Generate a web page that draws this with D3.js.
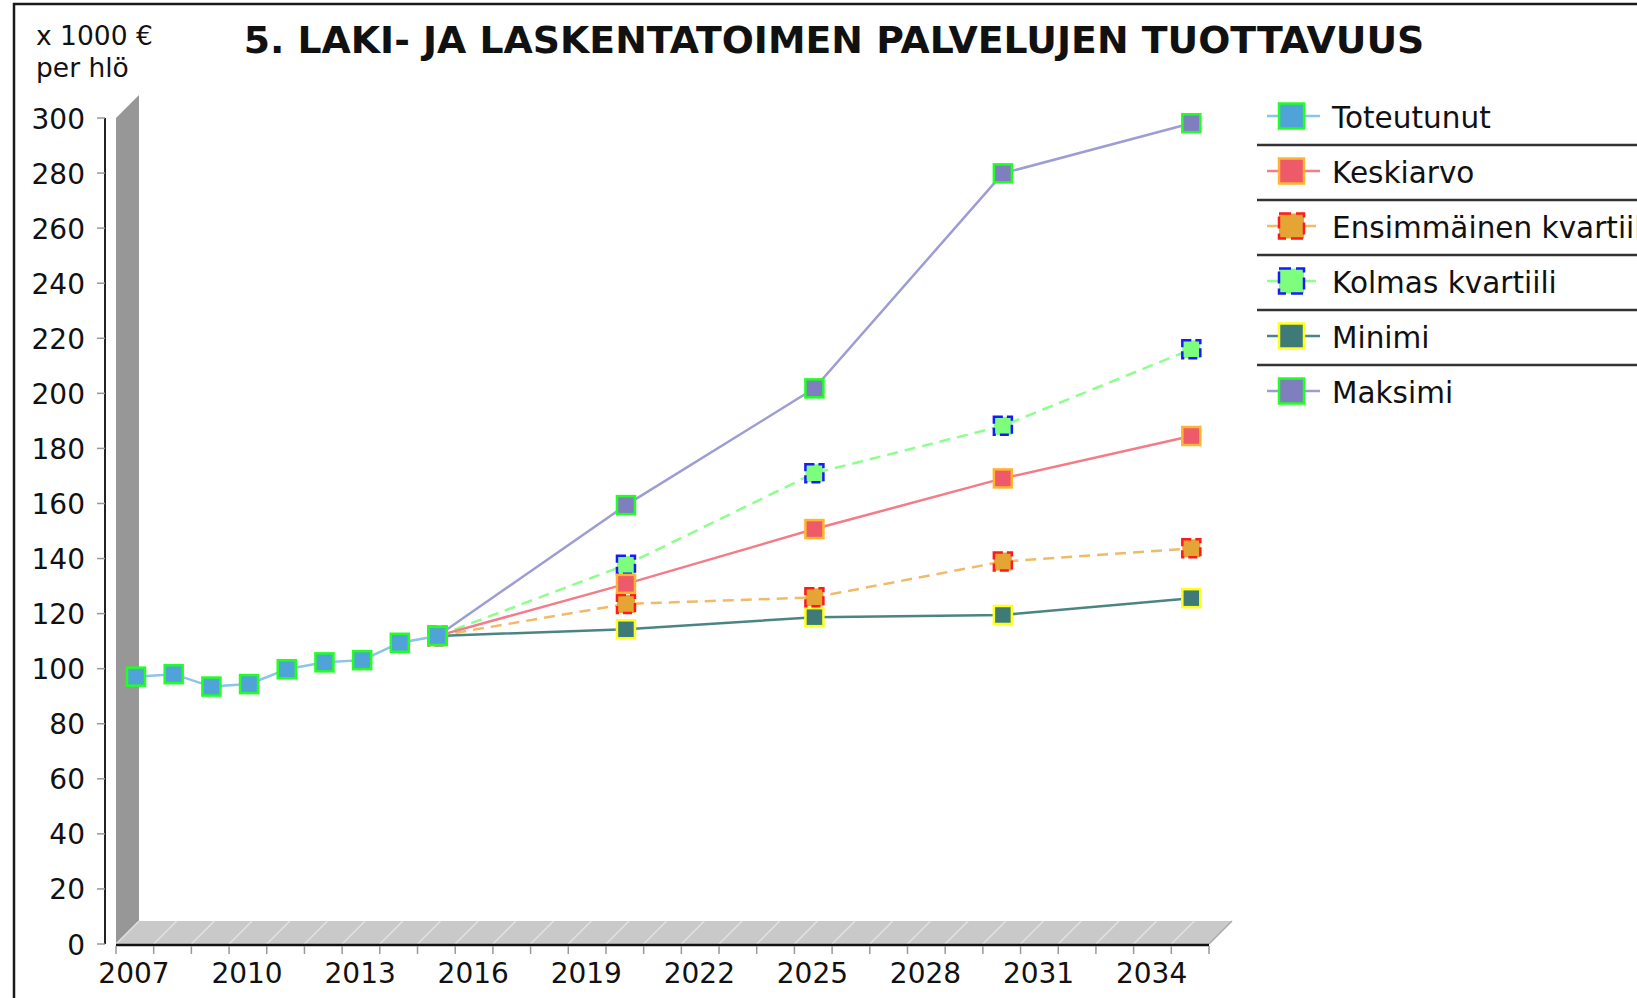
<!DOCTYPE html>
<html>
<head>
<meta charset="utf-8">
<script src="https://cdn.jsdelivr.net/npm/d3@7"></script>
<style>
  body { margin: 0; background: #fff; }
  text { font-family: "DejaVu Sans", Verdana, sans-serif; fill: #111; }
</style>
</head>
<body>
<script>
const width = 1637
const height = 998

/* Data (x 1000 € per hlö). */
const years = [2007, 2008, 2009, 2010, 2011, 2012, 2013, 2014, 2015]
const toteutunut = [97.1, 98.0, 93.5, 94.4, 99.8, 102.3, 103.1, 109.4, 111.9]

const forecastYears = [2015, 2020, 2025, 2030, 2035]
const keskiarvo = [111.9, 130.8, 150.7, 169.1, 184.5]
const ensimmainen = [111.9, 123.5, 125.9, 138.9, 143.7]
const kolmas = [111.9, 137.7, 171.0, 188.2, 216.0]
const minimi = [111.9, 114.3, 118.7, 119.5, 125.6]
const maksimi = [111.9, 159.4, 201.8, 279.9, 298.1]

const seriesNames = ["Toteutunut", "Keskiarvo", "Ensimmäinen kvartiili", "Kolmas kvartiili", "Minimi", "Maksimi"]

const yTicks = [0, 20, 40, 60, 80, 100, 120, 140, 160, 180, 200, 220, 240, 260, 280, 300]
const xTickYears = [2007, 2008, 2009, 2010, 2011, 2012, 2013, 2014, 2015, 2016, 2017, 2018, 2019, 2020, 2021,
  2022, 2023, 2024, 2025, 2026, 2027, 2028, 2029, 2030, 2031, 2032, 2033, 2034, 2035, 2036]
const xLabelYears = [2007, 2010, 2013, 2016, 2019, 2022, 2025, 2028, 2031, 2034]

const title = "5. LAKI- JA LASKENTATOIMEN PALVELUJEN TUOTTAVUUS"
const unitLines = ["x 1000 €", "per hlö"]

/* Series styles, in legend order. */
const series = [
  {name: seriesNames[0], xs: years, ys: toteutunut, line: "#8cc4ea", fill: "#4fa3d9", edge: "#22ff22", dash: null, edgeDash: null},
  {name: seriesNames[1], xs: forecastYears, ys: keskiarvo, line: "#f47c88", fill: "#ef5a6b", edge: "#ffb52e", dash: null, edgeDash: null},
  {name: seriesNames[2], xs: forecastYears, ys: ensimmainen, line: "#efbb66", fill: "#e5a535", edge: "#ff1a1a", dash: "11,7", edgeDash: "9,4"},
  {name: seriesNames[3], xs: forecastYears, ys: kolmas, line: "#8dff8d", fill: "#7dff7d", edge: "#1a1aff", dash: "11,7", edgeDash: "9,4"},
  {name: seriesNames[4], xs: forecastYears, ys: minimi, line: "#4b8583", fill: "#3e7b78", edge: "#ffff1a", dash: null, edgeDash: null},
  {name: seriesNames[5], xs: forecastYears, ys: maksimi, line: "#9d9dd4", fill: "#7f7fbf", edge: "#22ff22", dash: null, edgeDash: null}
]

/* 3D depth of wall and floor, and data shift from tick marks. */
const depth = 23
const dataShift = 20

const svg = d3.select("body")
  .append("svg")
  .attr("width", width)
  .attr("height", height)

/* Outer frame. */
svg.append("rect")
  .attr("x", 14).attr("y", 4)
  .attr("width", width + 20).attr("height", height + 20)
  .attr("fill", "none").attr("stroke", "#1a1a1a").attr("stroke-width", 2.5)

/* Scales. */
const x = d3.scaleLinear().domain([2007, 2036]).range([116, 1209])
const y = d3.scaleLinear().domain([0, 300]).range([944, 118])
const px = v => x(v) + dataShift

const x0 = x.range()[0]
const x1 = x.range()[1]
const yBase = y(0)
const yTop = y(300)

/* Left wall. */
svg.append("path")
  .attr("d", `M${x0},${yTop} L${x0 + depth},${yTop - depth} L${x0 + depth},${yBase - depth} L${x0},${yBase} Z`)
  .attr("fill", "#979797")

/* Floor. */
svg.append("path")
  .attr("d", `M${x0},${yBase} L${x1},${yBase} L${x1 + depth},${yBase - depth} L${x0 + depth},${yBase - depth} Z`)
  .attr("fill", "#c9c9c9")

svg.append("g")
  .selectAll("line")
  .data(xTickYears)
  .join("line")
  .attr("x1", d => x(d)).attr("y1", yBase)
  .attr("x2", d => x(d) + depth).attr("y2", yBase - depth)
  .attr("stroke", (d, i) => i === xTickYears.length - 1 ? "#a9a9a9" : "#e2e2e2")
  .attr("stroke-width", 1.5)

/* Y axis. */
svg.append("line")
  .attr("x1", 105).attr("x2", 105)
  .attr("y1", yTop).attr("y2", yBase)
  .attr("stroke", "#222").attr("stroke-width", 2)

const yAxis = svg.append("g")
yAxis.selectAll("line")
  .data(yTicks)
  .join("line")
  .attr("x1", 97).attr("x2", 105)
  .attr("y1", d => y(d)).attr("y2", d => y(d))
  .attr("stroke", "#999").attr("stroke-width", 1.5)
yAxis.selectAll("text")
  .data(yTicks)
  .join("text")
  .attr("x", 85)
  .attr("y", d => y(d) + 1)
  .attr("text-anchor", "end")
  .attr("dominant-baseline", "central")
  .attr("font-size", 28)
  .text(d => d)

/* X axis. */
svg.append("line")
  .attr("x1", x0).attr("x2", x1)
  .attr("y1", yBase + 1).attr("y2", yBase + 1)
  .attr("stroke", "#111").attr("stroke-width", 2.5)

svg.append("g")
  .selectAll("line")
  .data(xTickYears)
  .join("line")
  .attr("x1", d => x(d)).attr("x2", d => x(d))
  .attr("y1", yBase + 2).attr("y2", yBase + 10)
  .attr("stroke", "#999").attr("stroke-width", 1.5)

svg.append("g")
  .selectAll("text")
  .data(xLabelYears)
  .join("text")
  .attr("x", d => px(d) - 2)
  .attr("y", 983)
  .attr("text-anchor", "middle")
  .attr("font-size", 28)
  .text(d => d)

/* Lines and markers; last series drawn first so Toteutunut ends on top. */
const drawOrder = series.slice().reverse()
const lineGen = d3.line()

const lines = svg.append("g")
drawOrder.forEach(s => {
  lines.append("path")
    .attr("d", lineGen(s.xs.map((v, i) => [px(v), y(s.ys[i])])))
    .attr("fill", "none")
    .attr("stroke", s.line)
    .attr("stroke-width", 2.5)
    .attr("stroke-dasharray", s.dash)
})

const markers = svg.append("g")
const m = 18
drawOrder.forEach(s => {
  markers.append("g")
    .selectAll("rect")
    .data(s.xs.map((v, i) => [v, s.ys[i]]))
    .join("rect")
    .attr("x", d => px(d[0]) - m / 2)
    .attr("y", d => y(d[1]) - m / 2)
    .attr("width", m).attr("height", m)
    .attr("fill", s.fill)
    .attr("stroke", s.edge)
    .attr("stroke-width", 2.5)
    .attr("stroke-dasharray", s.edgeDash)
})

/* Legend (the last label runs past the right edge, as in the original). */
const legend = svg.append("g")
const rowTop = 116
const rowStep = 55
series.forEach((s, i) => {
  const cy = rowTop + i * rowStep
  legend.append("line")
    .attr("x1", 1267).attr("x2", 1320)
    .attr("y1", cy).attr("y2", cy)
    .attr("stroke", s.line).attr("stroke-width", 2.5)
    .attr("stroke-dasharray", s.dash ? "14,6,3,12" : null)
  legend.append("rect")
    .attr("x", 1279).attr("y", cy - 12.5)
    .attr("width", 25).attr("height", 25)
    .attr("fill", s.fill)
    .attr("stroke", s.edge).attr("stroke-width", 2.5)
    .attr("stroke-dasharray", s.edgeDash ? "12,5" : null)
  legend.append("text")
    .attr("x", 1332).attr("y", cy + 2)
    .attr("dominant-baseline", "central")
    .attr("font-size", 29.5)
    .text(s.name)
  if (i < series.length - 1) {
    legend.append("line")
      .attr("x1", 1257).attr("x2", width)
      .attr("y1", cy + 29).attr("y2", cy + 29)
      .attr("stroke", "#333").attr("stroke-width", 2.5)
  }
})

/* Title, fitted to the width it has in the original. */
const titleText = svg.append("text")
  .attr("x", 834)
  .attr("y", 53)
  .attr("text-anchor", "middle")
  .attr("font-size", 36)
  .attr("font-weight", "bold")
  .text(title)
const tw = titleText.node().getComputedTextLength()
titleText.attr("font-size", 36 * 1181 / tw)

/* Unit label. */
svg.append("g")
  .selectAll("text")
  .data(unitLines)
  .join("text")
  .attr("x", 36)
  .attr("y", (d, i) => 45 + i * 32)
  .attr("font-size", 26.5)
  .text(d => d)
</script>
</body>
</html>
